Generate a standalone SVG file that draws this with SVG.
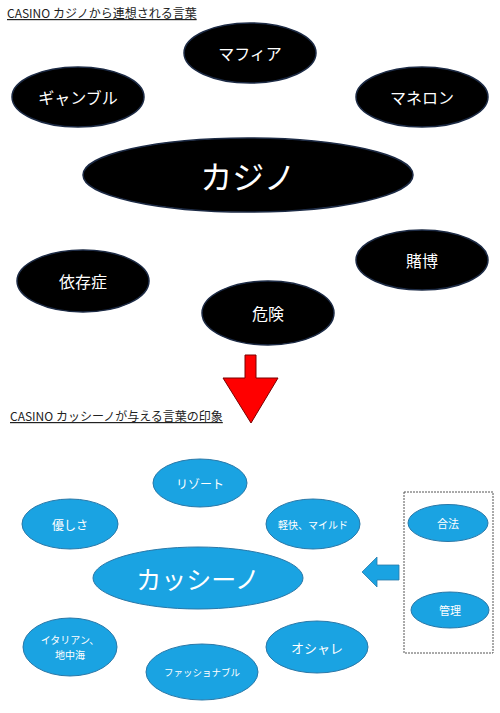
<svg xmlns="http://www.w3.org/2000/svg" width="500" height="713" viewBox="0 0 500 713">
<style>
text{font-family:"Noto Sans CJK JP","Liberation Sans",sans-serif;}
.title{font-size:12px;fill:#222;text-decoration:underline;}
.bk ellipse{fill:#000;stroke:#1c2a44;stroke-width:1.5;}
.bk text{fill:#fff;font-size:16px;text-anchor:middle;dominant-baseline:central;}
.bl ellipse{fill:#1aa3e2;stroke:#2a78a8;stroke-width:1;}
.bl text{fill:#fff;font-size:12px;text-anchor:middle;dominant-baseline:central;}
</style>
<rect width="500" height="713" fill="#fff"/>
<text class="title" x="7" y="18">CASINO カジノから連想される言葉</text>
<text class="title" x="10" y="421">CASINO カッシーノが与える言葉の印象</text>

<g id="mafia" class="bk"><ellipse cx="250" cy="53" rx="66" ry="30"/><text x="250" y="53">マフィア</text></g>
<g id="gamble" class="bk"><ellipse cx="78" cy="97" rx="66" ry="30"/><text x="78" y="97">ギャンブル</text></g>
<g id="maneron" class="bk"><ellipse cx="422" cy="97" rx="66" ry="30"/><text x="422" y="97">マネロン</text></g>
<g id="casino" class="bk"><ellipse cx="248" cy="175" rx="165" ry="37"/><text x="248" y="175" style="font-size:32px">カジノ</text></g>
<g id="izonsho" class="bk"><ellipse cx="83" cy="281" rx="66" ry="31"/><text x="83" y="281">依存症</text></g>
<g id="tobaku" class="bk"><ellipse cx="422" cy="260" rx="66" ry="30"/><text x="422" y="260">賭博</text></g>
<g id="kiken" class="bk"><ellipse cx="268" cy="313" rx="66" ry="32"/><text x="268" y="313">危険</text></g>

<g id="connectors">
<polygon points="245,355 256,355 256,378 278,378 251,423 223,378 245,378" fill="#ff0000" stroke="#7a0000" stroke-width="1"/>
<polygon points="362,572 377,557 377,565 399,565 399,580 377,580 377,587" fill="#1aa3e2" stroke="#2a78a8" stroke-width="0.8"/>
</g>

<g id="resort" class="bl"><ellipse cx="200" cy="483" rx="47" ry="24"/><text x="200" y="483">リゾート</text></g>
<g id="yasashisa" class="bl"><ellipse cx="70" cy="524" rx="48" ry="25"/><text x="70" y="524">優しさ</text></g>
<g id="keikai" class="bl"><ellipse cx="313" cy="524" rx="47" ry="25"/><text x="313" y="524" style="font-size:10px">軽快、マイルド</text></g>
<g id="cassino" class="bl"><ellipse cx="198" cy="578" rx="105" ry="31"/><text x="198" y="578" style="font-size:25px">カッシーノ</text></g>
<g id="italian" class="bl"><ellipse cx="70" cy="647" rx="47" ry="29"/><text x="70" y="639.5" style="font-size:10px">イタリアン、</text><text x="70" y="654.5" style="font-size:10px">地中海</text></g>
<g id="fashionable" class="bl"><ellipse cx="202" cy="672" rx="56" ry="28"/><text x="202" y="672" style="font-size:9.5px">ファッショナブル</text></g>
<g id="oshare" class="bl"><ellipse cx="317" cy="647" rx="51" ry="26"/><text x="317" y="647" style="font-size:13px">オシャレ</text></g>

<g id="box"><rect x="404" y="492" width="89" height="161" fill="none" stroke="#555" stroke-width="1" stroke-dasharray="2,1"/></g>
<g id="goho" class="bl"><ellipse cx="448" cy="523" rx="40" ry="18.5"/><text x="448" y="523" style="font-size:11px">合法</text></g>
<g id="kanri" class="bl"><ellipse cx="450" cy="610" rx="39" ry="18"/><text x="450" y="610" style="font-size:11px">管理</text></g>
</svg>
